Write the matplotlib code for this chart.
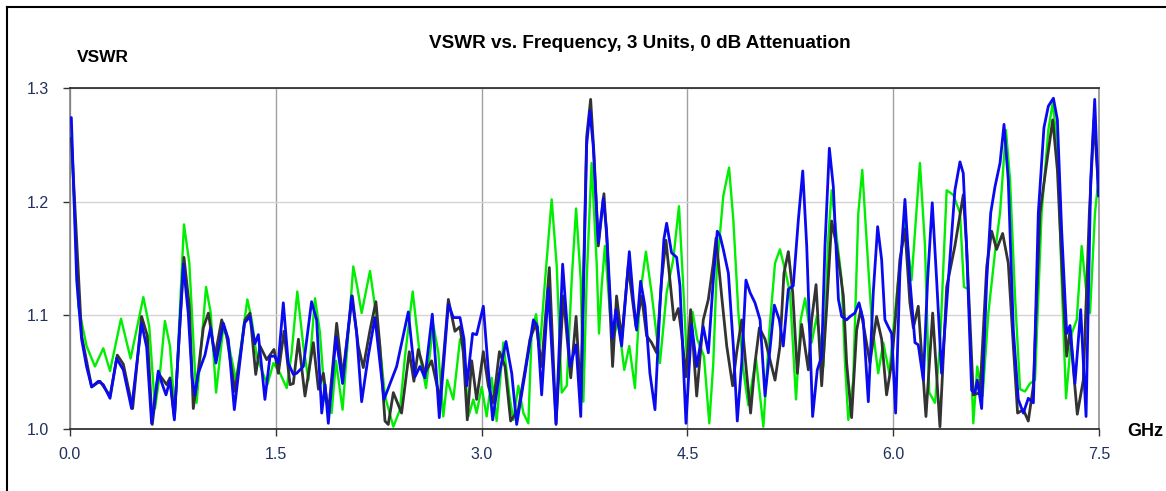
import matplotlib
matplotlib.use("Agg")
import matplotlib.pyplot as plt
from matplotlib.lines import Line2D

plt.rcParams['font.family'] = ['Liberation Sans', 'DejaVu Sans']

# unit 1 (blue)
blue_f = [0.010, 0.049, 0.085, 0.121, 0.158, 0.207, 0.243, 0.292, 0.340, 0.389,
          0.449, 0.522, 0.559, 0.595, 0.644, 0.668, 0.700, 0.729, 0.761, 0.826,
          0.862, 0.890, 0.911, 0.935, 0.984, 1.025, 1.064, 1.118, 1.154, 1.198,
          1.271, 1.312, 1.348, 1.373, 1.421, 1.458, 1.494, 1.518, 1.555, 1.591,
          1.628, 1.652, 1.701, 1.761, 1.798, 1.835, 1.859, 1.883, 1.939, 1.987,
          2.053, 2.089, 2.126, 2.174, 2.223, 2.289, 2.381, 2.466, 2.515, 2.551,
          2.587, 2.641, 2.692, 2.758, 2.794, 2.843, 2.872, 2.892, 2.935, 2.964,
          3.013, 3.049, 3.081, 3.130, 3.178, 3.220, 3.256, 3.317, 3.378, 3.407,
          3.438, 3.487, 3.543, 3.591, 3.645, 3.689, 3.723, 3.766, 3.790, 3.814,
          3.851, 3.887, 3.911, 3.953, 3.979, 4.021, 4.077, 4.106, 4.130, 4.159,
          4.191, 4.227, 4.264, 4.300, 4.329, 4.349, 4.385, 4.422, 4.446, 4.490,
          4.531, 4.568, 4.616, 4.653, 4.689, 4.718, 4.738, 4.762, 4.799, 4.835,
          4.864, 4.896, 4.927, 4.957, 4.993, 5.030, 5.066, 5.102, 5.134, 5.170,
          5.199, 5.236, 5.272, 5.309, 5.341, 5.370, 5.413, 5.447, 5.479, 5.503,
          5.535, 5.564, 5.601, 5.625, 5.661, 5.686, 5.721, 5.751, 5.782, 5.819,
          5.855, 5.887, 5.916, 5.940, 5.964, 5.989, 6.018, 6.049, 6.086, 6.122,
          6.159, 6.183, 6.220, 6.251, 6.285, 6.317, 6.353, 6.402, 6.450, 6.487,
          6.511, 6.535, 6.572, 6.596, 6.613, 6.645, 6.682, 6.711, 6.742, 6.779,
          6.808, 6.839, 6.876, 6.912, 6.949, 6.985, 7.022, 7.058, 7.099, 7.131,
          7.168, 7.197, 7.228, 7.265, 7.289, 7.325, 7.367, 7.406, 7.440, 7.469,
          7.496]
blue_v = [1.274, 1.131, 1.079, 1.055, 1.037, 1.042, 1.039, 1.027, 1.062, 1.052,
          1.018, 1.093, 1.072, 1.005, 1.051, 1.041, 1.030, 1.043, 1.008, 1.145,
          1.102, 1.045, 1.030, 1.049, 1.065, 1.089, 1.058, 1.093, 1.079, 1.017,
          1.093, 1.099, 1.075, 1.083, 1.026, 1.064, 1.064, 1.058, 1.111, 1.058,
          1.048, 1.049, 1.055, 1.112, 1.096, 1.014, 1.039, 1.005, 1.081, 1.040,
          1.117, 1.085, 1.024, 1.064, 1.098, 1.026, 1.055, 1.103, 1.046, 1.055,
          1.045, 1.101, 1.010, 1.110, 1.098, 1.098, 1.079, 1.038, 1.084, 1.083,
          1.108, 1.052, 1.008, 1.049, 1.077, 1.049, 1.004, 1.049, 1.096, 1.090,
          1.030, 1.124, 1.004, 1.145, 1.055, 1.074, 1.011, 1.250, 1.280, 1.249,
          1.164, 1.203, 1.175, 1.080, 1.105, 1.073, 1.156, 1.114, 1.087, 1.130,
          1.108, 1.049, 1.017, 1.108, 1.167, 1.181, 1.155, 1.151, 1.126, 1.005,
          1.092, 1.055, 1.090, 1.067, 1.131, 1.174, 1.170, 1.158, 1.137, 1.073,
          1.007, 1.058, 1.131, 1.120, 1.111, 1.096, 1.029, 1.070, 1.109, 1.096,
          1.073, 1.123, 1.126, 1.184, 1.227, 1.161, 1.011, 1.052, 1.064, 1.161,
          1.247, 1.213, 1.114, 1.099, 1.096, 1.099, 1.102, 1.111, 1.096, 1.024,
          1.120, 1.178, 1.149, 1.096, 1.090, 1.084, 1.014, 1.137, 1.202, 1.131,
          1.076, 1.074, 1.043, 1.131, 1.199, 1.131, 1.049, 1.131, 1.210, 1.235,
          1.225, 1.161, 1.034, 1.032, 1.043, 1.018, 1.131, 1.190, 1.213, 1.234,
          1.268, 1.219, 1.087, 1.026, 1.014, 1.027, 1.023, 1.190, 1.265, 1.284,
          1.291, 1.272, 1.175, 1.084, 1.091, 1.040, 1.105, 1.011, 1.219, 1.290,
          1.205]

# unit 2 (green)
green_f = [0.010, 0.061, 0.121, 0.182, 0.243, 0.292, 0.372, 0.442, 0.535, 0.578,
           0.620, 0.656, 0.692, 0.729, 0.765, 0.831, 0.870, 0.923, 0.992, 1.026,
           1.065, 1.118, 1.154, 1.210, 1.240, 1.293, 1.325, 1.361, 1.397, 1.439,
           1.483, 1.531, 1.580, 1.616, 1.657, 1.701, 1.738, 1.786, 1.822, 1.858,
           1.907, 1.939, 1.987, 2.029, 2.065, 2.094, 2.126, 2.187, 2.223, 2.259,
           2.296, 2.357, 2.405, 2.442, 2.498, 2.551, 2.595, 2.648, 2.685, 2.721,
           2.750, 2.794, 2.843, 2.867, 2.904, 2.940, 2.964, 3.001, 3.037, 3.074,
           3.110, 3.159, 3.203, 3.232, 3.268, 3.305, 3.341, 3.365, 3.397, 3.426,
           3.463, 3.511, 3.548, 3.584, 3.621, 3.657, 3.689, 3.723, 3.742, 3.766,
           3.802, 3.839, 3.856, 3.875, 3.899, 3.936, 3.960, 3.996, 4.040, 4.077,
           4.118, 4.154, 4.198, 4.239, 4.300, 4.349, 4.397, 4.439, 4.470, 4.499,
           4.538, 4.572, 4.621, 4.660, 4.689, 4.714, 4.762, 4.804, 4.835, 4.872,
           4.908, 4.944, 5.000, 5.054, 5.098, 5.139, 5.175, 5.212, 5.248, 5.292,
           5.326, 5.358, 5.406, 5.443, 5.491, 5.528, 5.552, 5.588, 5.625, 5.648,
           5.673, 5.709, 5.746, 5.775, 5.806, 5.843, 5.891, 5.928, 5.972, 6.001,
           6.037, 6.086, 6.134, 6.195, 6.232, 6.263, 6.305, 6.341, 6.390, 6.438,
           6.487, 6.516, 6.548, 6.584, 6.613, 6.652, 6.694, 6.742, 6.779, 6.822,
           6.852, 6.888, 6.925, 6.961, 6.997, 7.034, 7.082, 7.131, 7.163, 7.197,
           7.228, 7.260, 7.301, 7.338, 7.374, 7.411, 7.435, 7.471, 7.496]
green_v = [1.260, 1.108, 1.073, 1.055, 1.071, 1.051, 1.097, 1.062, 1.116, 1.090,
           1.018, 1.049, 1.095, 1.073, 1.013, 1.180, 1.146, 1.023, 1.125, 1.102,
           1.032, 1.090, 1.076, 1.043, 1.067, 1.114, 1.096, 1.064, 1.052, 1.039,
           1.058, 1.049, 1.036, 1.067, 1.121, 1.073, 1.043, 1.115, 1.085, 1.026,
           1.014, 1.060, 1.017, 1.084, 1.143, 1.125, 1.102, 1.139, 1.108, 1.073,
           1.029, 1.002, 1.017, 1.064, 1.121, 1.064, 1.036, 1.092, 1.067, 1.011,
           1.043, 1.026, 1.079, 1.073, 1.011, 1.026, 1.014, 1.037, 1.011, 1.045,
           1.007, 1.076, 1.029, 1.008, 1.038, 1.014, 1.005, 1.084, 1.101, 1.073,
           1.131, 1.202, 1.143, 1.032, 1.038, 1.131, 1.194, 1.131, 1.024, 1.131,
           1.234, 1.146, 1.084, 1.125, 1.161, 1.102, 1.079, 1.096, 1.052, 1.073,
           1.036, 1.117, 1.156, 1.120, 1.058, 1.120, 1.149, 1.196, 1.125, 1.055,
           1.103, 1.079, 1.064, 1.005, 1.058, 1.140, 1.205, 1.230, 1.184, 1.102,
           1.052, 1.021, 1.062, 1.002, 1.087, 1.146, 1.158, 1.140, 1.120, 1.026,
           1.096, 1.115, 1.076, 1.099, 1.055, 1.169, 1.210, 1.169, 1.131, 1.060,
           1.008, 1.043, 1.190, 1.228, 1.167, 1.096, 1.049, 1.076, 1.049, 1.087,
           1.131, 1.184, 1.131, 1.234, 1.161, 1.032, 1.023, 1.073, 1.210, 1.206,
           1.190, 1.125, 1.123, 1.005, 1.055, 1.029, 1.102, 1.155, 1.190, 1.263,
           1.219, 1.117, 1.035, 1.033, 1.040, 1.043, 1.190, 1.263, 1.287, 1.249,
           1.131, 1.027, 1.084, 1.096, 1.161, 1.117, 1.102, 1.190, 1.219]

# unit 3 (black)
black_f = [0.010, 0.085, 0.158, 0.219, 0.292, 0.345, 0.389, 0.457, 0.522, 0.564,
           0.600, 0.644, 0.705, 0.729, 0.761, 0.831, 0.870, 0.899, 0.936, 0.972,
           1.009, 1.057, 1.106, 1.142, 1.203, 1.240, 1.276, 1.312, 1.354, 1.385,
           1.434, 1.487, 1.519, 1.560, 1.604, 1.628, 1.665, 1.713, 1.774, 1.811,
           1.847, 1.884, 1.944, 1.987, 2.058, 2.101, 2.138, 2.187, 2.230, 2.259,
           2.296, 2.320, 2.357, 2.417, 2.473, 2.507, 2.539, 2.587, 2.636, 2.697,
           2.758, 2.806, 2.843, 2.867, 2.896, 2.928, 2.964, 3.013, 3.049, 3.086,
           3.130, 3.171, 3.212, 3.268, 3.317, 3.353, 3.397, 3.438, 3.494, 3.543,
           3.596, 3.650, 3.689, 3.723, 3.766, 3.795, 3.819, 3.851, 3.892, 3.916,
           3.955, 3.984, 4.021, 4.069, 4.125, 4.167, 4.203, 4.239, 4.276, 4.312,
           4.344, 4.373, 4.402, 4.434, 4.458, 4.490, 4.524, 4.568, 4.616, 4.653,
           4.689, 4.709, 4.750, 4.787, 4.830, 4.859, 4.896, 4.932, 4.961, 4.993,
           5.025, 5.066, 5.102, 5.139, 5.175, 5.204, 5.236, 5.268, 5.302, 5.333,
           5.382, 5.406, 5.438, 5.479, 5.516, 5.552, 5.588, 5.637, 5.661, 5.697,
           5.734, 5.763, 5.794, 5.831, 5.879, 5.916, 5.952, 5.989, 6.020, 6.049,
           6.086, 6.122, 6.147, 6.183, 6.239, 6.288, 6.341, 6.390, 6.450, 6.511,
           6.535, 6.584, 6.633, 6.682, 6.718, 6.754, 6.798, 6.839, 6.876, 6.907,
           6.949, 6.985, 7.022, 7.070, 7.119, 7.163, 7.197, 7.240, 7.265, 7.289,
           7.342, 7.386, 7.430, 7.464, 7.496]
black_v = [1.256, 1.082, 1.037, 1.042, 1.029, 1.065, 1.057, 1.018, 1.099, 1.082,
           1.004, 1.049, 1.039, 1.045, 1.010, 1.151, 1.108, 1.018, 1.052, 1.089,
           1.102, 1.064, 1.096, 1.082, 1.033, 1.064, 1.096, 1.102, 1.048, 1.073,
           1.061, 1.070, 1.049, 1.086, 1.039, 1.040, 1.079, 1.029, 1.076, 1.035,
           1.049, 1.014, 1.093, 1.046, 1.117, 1.073, 1.054, 1.087, 1.112, 1.073,
           1.007, 1.004, 1.032, 1.014, 1.068, 1.042, 1.070, 1.049, 1.060, 1.026,
           1.114, 1.086, 1.090, 1.067, 1.008, 1.060, 1.026, 1.068, 1.038, 1.023,
           1.068, 1.055, 1.007, 1.017, 1.052, 1.079, 1.093, 1.055, 1.142, 1.005,
           1.117, 1.045, 1.099, 1.026, 1.257, 1.290, 1.243, 1.161, 1.207, 1.161,
           1.055, 1.117, 1.079, 1.143, 1.090, 1.117, 1.082, 1.076, 1.067, 1.131,
           1.166, 1.131, 1.096, 1.106, 1.084, 1.046, 1.105, 1.029, 1.096, 1.114,
           1.146, 1.168, 1.117, 1.073, 1.038, 1.067, 1.096, 1.049, 1.014, 1.058,
           1.089, 1.079, 1.061, 1.043, 1.073, 1.137, 1.156, 1.120, 1.049, 1.092,
           1.052, 1.096, 1.127, 1.038, 1.108, 1.183, 1.161, 1.117, 1.058, 1.010,
           1.087, 1.105, 1.084, 1.058, 1.099, 1.079, 1.030, 1.058, 1.102, 1.149,
           1.176, 1.111, 1.089, 1.108, 1.011, 1.102, 1.002, 1.125, 1.161, 1.206,
           1.161, 1.030, 1.032, 1.143, 1.174, 1.158, 1.172, 1.146, 1.073, 1.014,
           1.017, 1.007, 1.038, 1.190, 1.234, 1.272, 1.228, 1.117, 1.064, 1.087,
           1.013, 1.043, 1.190, 1.272, 1.213]

x_ticks = [0.0, 1.5, 3.0, 4.5, 6.0, 7.5]
y_ticks = [1.0, 1.1, 1.2, 1.3]

fig = plt.figure(figsize=(11.66, 4.91), dpi=100)
ax = fig.add_axes([0.0600, 0.1263, 0.8825, 0.6945])

line_kw = dict(solid_joinstyle='round', solid_capstyle='round')
ax.plot(green_f, green_v, color='#00ee00', lw=1.7, zorder=3, **line_kw)
ax.plot(black_f, black_v, color='#333333', lw=2.0, zorder=4, **line_kw)
ax.plot(blue_f, blue_v, color='#0a0af0', lw=2.0, zorder=5, **line_kw)

ax.set_xlim(0, 7.5)
ax.set_ylim(1.0, 1.3)
ax.set_xticks(x_ticks)
ax.set_yticks(y_ticks)
ax.set_xticklabels(['%.1f' % t for t in x_ticks])
ax.set_yticklabels(['%.1f' % t for t in y_ticks])
ax.tick_params(axis='both', direction='out', length=5, width=1,
               labelsize=11.5, labelcolor='#1f2f5f', color='#333333')
ax.tick_params(axis='y', pad=10)
ax.tick_params(axis='x', pad=8)

ax.xaxis.grid(True, color='#a0a0a0', lw=1)
ax.yaxis.grid(True, color='#d4d4d4', lw=1)
ax.set_axisbelow(True)

ax.spines['left'].set_color('#808080')
ax.spines['right'].set_color('#909090')
ax.spines['top'].set_color('#222222')
ax.spines['bottom'].set_color('#222222')
for s in ax.spines.values():
    s.set_linewidth(1.2)

fig.text(640 / 1166, 1 - 44 / 491, 'VSWR vs. Frequency, 3 Units, 0 dB Attenuation',
         ha='center', va='center', fontsize=13.6, fontweight='bold')
fig.text(77 / 1166, 1 - 57 / 491, 'VSWR', ha='left', va='center',
         fontsize=12.5, fontweight='bold')
fig.text(1127 / 1166, 1 - 432 / 491, 'GHz', ha='left', va='center',
         fontsize=13, fontweight='bold')

# outer frame (top and left edges visible)
fig.add_artist(Line2D([6.5 / 1166, 1.0], [1 - 7 / 491] * 2, color='black', lw=1.5))
fig.add_artist(Line2D([6.5 / 1166] * 2, [0.0, 1 - 7 / 491], color='black', lw=1.5))

fig.savefig('out.png', dpi=100)
